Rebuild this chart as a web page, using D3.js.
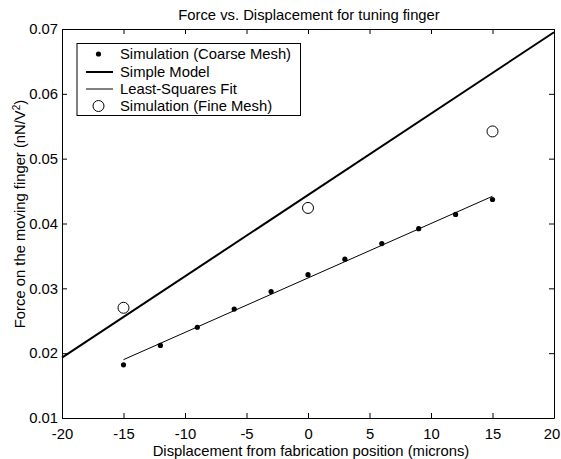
<!DOCTYPE html>
<html><head><meta charset="utf-8">
<script src="https://cdn.jsdelivr.net/npm/d3@7"></script>
<style>body{margin:0;background:#fff}svg{display:block}text{font-family:Arial,"Liberation Sans",sans-serif;fill:#000}</style>
</head><body><div id="chart"></div>
<script>
const coarseX = [-15,-12,-9,-6,-3,0,3,6,9,12,15];
const coarseY = [0.0182,0.0212,0.0240,0.0268,0.0295,0.0321,0.0345,0.0369,0.0392,0.0414,0.0437];
const modelX = [-20,20];
const modelY = [0.0193,0.0695];
const fitX = [-15,15];
const fitY = [0.0190,0.0442];
const fineX = [-15,0,15];
const fineY = [0.0270,0.0424,0.0542];
const xTicks = [-20,-15,-10,-5,0,5,10,15,20];
const yTicks = [0.01,0.02,0.03,0.04,0.05,0.06,0.07];
const legendLabels = ["Simulation (Coarse Mesh)","Simple Model","Least-Squares Fit","Simulation (Fine Mesh)"];

const W=561,H=459,FS=14.8;
const m={l:62,r:7,t:29,b:41};
const svg=d3.select("#chart").append("svg").attr("width",W).attr("height",H);
const x=d3.scaleLinear().domain([-20,20]).range([m.l,W-m.r]);
const y=d3.scaleLinear().domain([0.01,0.07]).range([H-m.b,m.t]);

const fmtY=d3.format(".2f");
svg.append("g").attr("transform",`translate(0,${H-m.b})`)
  .call(d3.axisBottom(x).tickValues(xTicks).tickSizeInner(-5).tickSizeOuter(0).tickPadding(10).tickFormat(d=>String(d)))
  .call(g=>g.selectAll("text").attr("font-size",FS).attr("dx",d=>d===20?-2.5:0));
svg.append("g").attr("transform",`translate(0,${m.t})`)
  .call(d3.axisTop(x).tickValues(xTicks).tickSizeInner(-5).tickSizeOuter(0).tickFormat(""));
svg.append("g").attr("transform",`translate(${m.l},0)`)
  .call(d3.axisLeft(y).tickValues(yTicks).tickSizeInner(-5).tickSizeOuter(0).tickPadding(4).tickFormat(fmtY))
  .call(g=>g.selectAll("text").attr("font-size",FS));
svg.append("g").attr("transform",`translate(${W-m.r},0)`)
  .call(d3.axisRight(y).tickValues(yTicks).tickSizeInner(-5).tickSizeOuter(0).tickFormat(""));
svg.selectAll(".domain").attr("stroke","#000");
svg.selectAll(".tick line").attr("stroke","#000");
svg.selectAll("g text").style("font-family","Arial, 'Liberation Sans', sans-serif");

const line=d3.line().x(d=>x(d[0])).y(d=>y(d[1]));
svg.append("path").datum(modelX.map((v,i)=>[v,modelY[i]])).attr("d",line)
  .attr("fill","none").attr("stroke","#000").attr("stroke-width",2);
svg.append("path").datum(fitX.map((v,i)=>[v,fitY[i]])).attr("d",line)
  .attr("fill","none").attr("stroke","#000").attr("stroke-width",1);
svg.selectAll(".coarse").data(coarseX.map((v,i)=>[v,coarseY[i]])).join("circle")
  .attr("cx",d=>x(d[0])).attr("cy",d=>y(d[1])).attr("r",2.6).attr("fill","#000");
svg.selectAll(".fine").data(fineX.map((v,i)=>[v,fineY[i]])).join("circle")
  .attr("cx",d=>x(d[0])).attr("cy",d=>y(d[1])).attr("r",5.5).attr("fill","none").attr("stroke","#000").attr("stroke-width",1);

svg.append("text").attr("x",309).attr("y",19.5).attr("text-anchor","middle").attr("font-size",FS)
  .text("Force vs. Displacement for tuning finger");
svg.append("text").attr("x",311).attr("y",455.5).attr("text-anchor","middle").attr("font-size",FS)
  .text("Displacement from fabrication position (microns)");
const yl=svg.append("text").attr("transform",`translate(24.5,214) rotate(-90)`).attr("text-anchor","middle").attr("font-size",FS);
yl.append("tspan").text("Force on the moving finger (nN/V");
yl.append("tspan").attr("baseline-shift","super").attr("font-size",10).text("2");
yl.append("tspan").text(")");

const lg=svg.append("g");
lg.append("rect").attr("x",77).attr("y",43.5).attr("width",223.5).attr("height",72).attr("fill","#fff").attr("stroke","#000").attr("stroke-width",1);
const rows=[54,72,89,106];
legendLabels.forEach((t,i)=>{
  lg.append("text").attr("x",120).attr("y",rows[i]+5.3).attr("font-size",FS).text(t);
});
lg.append("circle").attr("cx",98.5).attr("cy",rows[0]).attr("r",2.6).attr("fill","#000");
lg.append("line").attr("x1",86).attr("x2",113).attr("y1",rows[1]).attr("y2",rows[1]).attr("stroke","#000").attr("stroke-width",2);
lg.append("line").attr("x1",86).attr("x2",113).attr("y1",rows[2]).attr("y2",rows[2]).attr("stroke","#000").attr("stroke-width",1);
lg.append("circle").attr("cx",98.5).attr("cy",rows[3]).attr("r",5.5).attr("fill","none").attr("stroke","#000");
</script></body></html>
